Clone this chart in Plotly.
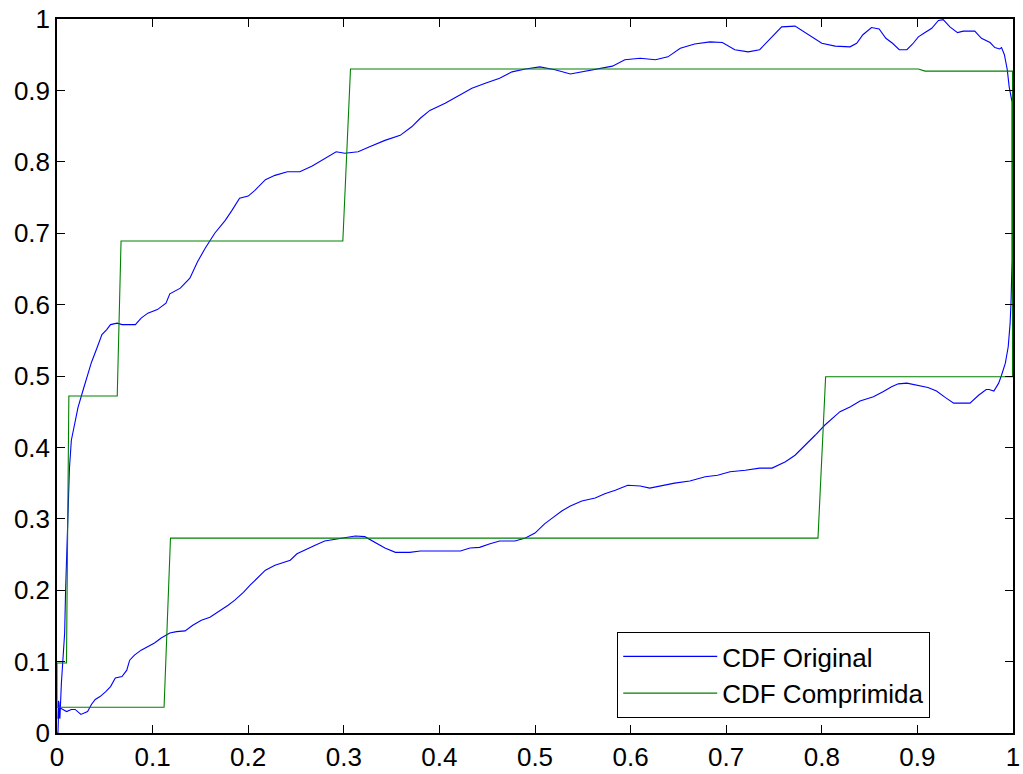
import plotly.graph_objects as go

# Blue: original CDF (closed loop: upper branch left->right, then lower branch right->left)
orig_x = [0.0, 0.001, 0.002, 0.003, 0.0046, 0.0064, 0.008, 0.009, 0.011, 0.013, 0.015, 0.019, 0.022,
          0.027, 0.032, 0.036, 0.042, 0.047, 0.052, 0.056, 0.063, 0.068, 0.082, 0.088, 0.095,
          0.105, 0.114, 0.118, 0.129, 0.139, 0.147, 0.155, 0.165, 0.176, 0.183, 0.191, 0.2,
          0.207, 0.218, 0.228, 0.241, 0.254, 0.267, 0.28, 0.292, 0.301, 0.315, 0.327, 0.343,
          0.359, 0.371, 0.38, 0.39, 0.406, 0.422, 0.434, 0.448, 0.463, 0.476, 0.49, 0.505,
          0.521, 0.537, 0.552, 0.566, 0.581, 0.594, 0.61, 0.626, 0.639, 0.652, 0.667, 0.683,
          0.696, 0.709, 0.723, 0.735, 0.746, 0.758, 0.772, 0.786, 0.8, 0.814, 0.8295, 0.8365,
          0.843, 0.852, 0.86, 0.867, 0.874, 0.881, 0.889, 0.895, 0.901, 0.908, 0.915, 0.922,
          0.927, 0.934, 0.942, 0.948, 0.96, 0.967, 0.976, 0.981, 0.986, 0.988, 0.991, 0.994,
          0.996, 0.999, 0.9993, 0.9993, 0.999, 0.998, 0.997, 0.995, 0.992, 0.988, 0.985, 0.98,
          0.975, 0.972, 0.964, 0.955, 0.938, 0.929, 0.92, 0.911, 0.899, 0.889, 0.88, 0.873,
          0.864, 0.854, 0.84, 0.83, 0.819, 0.811, 0.803, 0.793, 0.782, 0.772, 0.762, 0.748,
          0.735, 0.72, 0.704, 0.691, 0.678, 0.662, 0.646, 0.631, 0.62, 0.61, 0.597, 0.584,
          0.573, 0.563, 0.549, 0.537, 0.528, 0.518, 0.51, 0.5, 0.49, 0.479, 0.463, 0.453,
          0.442, 0.432, 0.422, 0.406, 0.38, 0.369, 0.354, 0.343, 0.333, 0.322, 0.312, 0.296,
          0.28, 0.27, 0.259, 0.251, 0.244, 0.236, 0.228, 0.218, 0.21, 0.202, 0.195, 0.186,
          0.179, 0.171, 0.16, 0.151, 0.142, 0.134, 0.125, 0.118, 0.109, 0.102, 0.095, 0.088,
          0.081, 0.076, 0.073, 0.068, 0.061, 0.056, 0.051, 0.045, 0.04, 0.036, 0.032, 0.025,
          0.019, 0.015, 0.01, 0.006, 0.0035, 0.002, 0.0015, 0.001]
orig_y = [0.0, 0.0, 0.044, 0.02, 0.07, 0.116, 0.14, 0.2, 0.28, 0.37, 0.41, 0.437, 0.456,
          0.479, 0.502, 0.519, 0.54, 0.558, 0.565, 0.572, 0.574, 0.572, 0.572, 0.581, 0.588,
          0.593, 0.602, 0.615, 0.623, 0.637, 0.66, 0.679, 0.70, 0.718, 0.732, 0.749, 0.752,
          0.76, 0.775, 0.781, 0.786, 0.786, 0.794, 0.805, 0.814, 0.812, 0.814, 0.821, 0.83,
          0.837, 0.849, 0.861, 0.872, 0.882, 0.894, 0.903, 0.91, 0.917, 0.926, 0.93, 0.933,
          0.929, 0.923, 0.927, 0.931, 0.934, 0.943, 0.945, 0.943, 0.947, 0.959, 0.965, 0.968,
          0.967, 0.957, 0.954, 0.957, 0.973, 0.989, 0.99, 0.978, 0.966, 0.962, 0.961, 0.966,
          0.978, 0.988, 0.986, 0.973, 0.966, 0.957, 0.957, 0.965, 0.975, 0.981, 0.987, 0.998,
          0.999, 0.989, 0.981, 0.983, 0.983, 0.973, 0.967, 0.96, 0.958, 0.96, 0.95, 0.929,
          0.905, 0.884, 0.793, 0.737, 0.662, 0.606, 0.574, 0.541, 0.518, 0.501, 0.49, 0.479,
          0.481, 0.481, 0.473, 0.462, 0.462, 0.47, 0.479, 0.484, 0.487, 0.49, 0.489, 0.485,
          0.478, 0.471, 0.465, 0.457, 0.45, 0.441, 0.431, 0.417, 0.403, 0.389, 0.38, 0.371,
          0.371, 0.368, 0.366, 0.361, 0.359, 0.353, 0.35, 0.346, 0.343, 0.346, 0.347, 0.34,
          0.335, 0.329, 0.325, 0.318, 0.311, 0.301, 0.293, 0.28, 0.273, 0.269, 0.269, 0.265,
          0.26, 0.259, 0.255, 0.255, 0.255, 0.253, 0.253, 0.259, 0.267, 0.275, 0.276, 0.272,
          0.269, 0.263, 0.256, 0.251, 0.242, 0.238, 0.235, 0.228, 0.218, 0.207, 0.197, 0.186,
          0.179, 0.172, 0.162, 0.158, 0.151, 0.143, 0.142, 0.14, 0.133, 0.126, 0.121, 0.116,
          0.109, 0.102, 0.088, 0.079, 0.077, 0.065, 0.058, 0.051, 0.047, 0.04, 0.03, 0.026,
          0.033, 0.033, 0.03, 0.033, 0.035, 0.021, 0.045, 0.02]

# Green: compressed CDF (step loop)
comp_x = [0.0, 0.0099, 0.0124, 0.063, 0.067, 0.299, 0.307, 0.901, 0.908, 0.9995, 0.9995,
          0.804, 0.796, 0.1187, 0.112, 0.0, 0.0]
comp_y = [0.098, 0.098, 0.472, 0.472, 0.689, 0.689, 0.93, 0.93, 0.927, 0.927, 0.499,
          0.499, 0.273, 0.273, 0.036, 0.036, 0.098]

tick_vals = [0, 0.1, 0.2, 0.3, 0.4, 0.5, 0.6, 0.7, 0.8, 0.9, 1]
tick_text = ["0", "0.1", "0.2", "0.3", "0.4", "0.5", "0.6", "0.7", "0.8", "0.9", "1"]

fig = go.Figure()
fig.add_trace(go.Scatter(x=orig_x, y=orig_y, mode="lines", name="CDF Original",
                         line=dict(color="#0000ff", width=1.1), cliponaxis=False))
fig.add_trace(go.Scatter(x=comp_x, y=comp_y, mode="lines", name="CDF Comprimida",
                         line=dict(color="#008000", width=1.1), cliponaxis=False))

axis_common = dict(
    range=[0, 1], tickvals=tick_vals, ticktext=tick_text,
    ticks="inside", ticklen=8, tickwidth=1, tickcolor="black",
    showline=True, linecolor="black", linewidth=1.5, mirror="allticks",
    showgrid=False, zeroline=False,
    tickfont=dict(family="Liberation Sans, Arial, sans-serif", size=26, color="black"),
)

fig.update_layout(
    width=1023, height=774,
    paper_bgcolor="white", plot_bgcolor="white",
    margin=dict(l=57, r=10, t=19, b=41, autoexpand=False),
    xaxis=dict(**axis_common),
    yaxis=dict(**axis_common),
    showlegend=True,
    legend=dict(
        x=0.586, y=0.1415, xanchor="left", yanchor="top",
        bgcolor="white", bordercolor="black", borderwidth=1,
        font=dict(family="Liberation Sans, Arial, sans-serif", size=26, color="black"),
        itemwidth=94, tracegroupgap=0,
    ),
)

fig.write_html("out.html", config={"displayModeBar": False},
               post_script="document.body.style.margin='0';document.body.style.overflow='hidden';")
